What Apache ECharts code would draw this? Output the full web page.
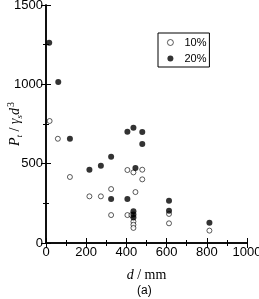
<!DOCTYPE html>
<html><head><meta charset="utf-8">
<script src="https://cdn.jsdelivr.net/npm/echarts@6/dist/echarts.min.js"></script>
<style>html,body{margin:0;padding:0;background:#fff}#c{width:259px;height:299px}</style>
</head><body><div id="c"></div>
<script>
const xTicks = [0, 200, 400, 600, 800, 1000];
const yTicks = [0, 500, 1000, 1500];
const series10Name = '10%';
const series20Name = '20%';
const data10 = [[18,769],[59,657],[119,416],[216,294],[273,294],[324,340],[324,176],[405,460],[435,445],[479,462],[479,401],[445,321],[405,176],[425,176],[435,135],[435,115],[435,95],[612,183],[612,124],[813,78]];
const data20 = [[16,1262],[61,1015],[119,657],[405,701],[435,727],[479,700],[479,624],[216,462],[273,487],[324,544],[445,473],[324,277],[405,277],[612,267],[612,204],[435,200],[435,180],[435,160],[813,128]];

const chart = echarts.init(document.getElementById('c'), null, {renderer:'canvas'});
const lab = {color:'#000', fontFamily:'Liberation Sans, Arial, sans-serif', fontSize:13, formatter:function(v){return String(v);}};
const line = {show:true, lineStyle:{color:'#000', width:1.5}};
function xAx(pos, showLabel, extra){
  return Object.assign({type:'value', position:pos, min:xTicks[0], max:xTicks[xTicks.length-1], interval:200,
    axisLine:line, splitLine:{show:false},
    axisTick:{show:true, inside:true, length:5, lineStyle:{color:'#000', width:1}},
    minorTick:{show:true, splitNumber:2, length:3, lineStyle:{color:'#000', width:1}},
    axisLabel:Object.assign({show:showLabel, margin:3}, lab)}, extra||{});
}
function yAx(pos, showLabel, extra){
  return Object.assign({type:'value', position:pos, min:yTicks[0], max:yTicks[yTicks.length-1], interval:500,
    axisLine:line, splitLine:{show:false},
    axisTick:{show:true, inside:true, length:5, lineStyle:{color:'#000', width:1}},
    minorTick:{show:true, splitNumber:2, length:3, lineStyle:{color:'#000', width:1}},
    axisLabel:Object.assign({show:showLabel, margin:3}, lab)}, extra||{});
}
chart.setOption({
  animation:false,
  grid:{left:46, right:12, top:5, bottom:56, containLabel:false, outerBoundsMode:'none'},
  xAxis:[
    xAx('bottom', true, {name:'{i|d}{n| / mm}', nameLocation:'middle', nameGap:25, nameMoveOverlap:false,
      nameTextStyle:{rich:{i:{fontFamily:'Liberation Serif, Times New Roman, serif', fontStyle:'italic', fontSize:14, color:'#000'},
                          n:{fontFamily:'Liberation Serif, Times New Roman, serif', fontSize:14, color:'#000'}}}}),
    xAx('top', false)
  ],
  yAxis:[
    yAx('left', true, {name:'{i|P}{sub|t}{n| / }{i|γ}{sub|s}{i|d}{sup|3}', nameLocation:'middle', nameGap:22, nameRotate:90, nameMoveOverlap:false,
      nameTextStyle:{rich:{
        i:{fontFamily:'Liberation Serif, Times New Roman, serif', fontStyle:'italic', fontSize:14, color:'#000', lineHeight:18, verticalAlign:'middle'},
        n:{fontFamily:'Liberation Serif, Times New Roman, serif', fontSize:14, color:'#000', lineHeight:18, verticalAlign:'middle'},
        sub:{fontFamily:'Liberation Serif, Times New Roman, serif', fontStyle:'italic', fontSize:9, color:'#000', lineHeight:18, verticalAlign:'bottom', padding:[6,0,0,0]},
        sup:{fontFamily:'Liberation Serif, Times New Roman, serif', fontSize:10, color:'#000', lineHeight:18, verticalAlign:'top', padding:[0,0,5,1]}
      }}}),
    yAx('right', false)
  ],
  legend:{show:true, left:158, top:33, orient:'vertical', itemWidth:6, itemHeight:6, itemGap:5,
    padding:[4,3,3,9], borderColor:'#000', borderWidth:1, borderRadius:0,
    textStyle:{fontFamily:'Liberation Sans, Arial, sans-serif', fontSize:11, color:'#000', padding:[0,0,0,6]},
    data:[{name:series10Name, icon:'circle', itemStyle:{borderWidth:0.8}},{name:series20Name, icon:'circle'}]},
  series:[
    {name:series10Name, type:'scatter', data:data10, symbol:'circle', symbolSize:5,
      itemStyle:{color:'#fff', borderColor:'#000', borderWidth:0.8}},
    {name:series20Name, type:'scatter', data:data20, symbol:'circle', symbolSize:6,
      itemStyle:{color:'#000', borderColor:'#000', borderWidth:0}}
  ],
  graphic:[{type:'text', left:137, top:285, style:{text:'(a)', fontFamily:'Liberation Sans, Arial, sans-serif', fontSize:12, fill:'#000'}}]
});
</script></body></html>
